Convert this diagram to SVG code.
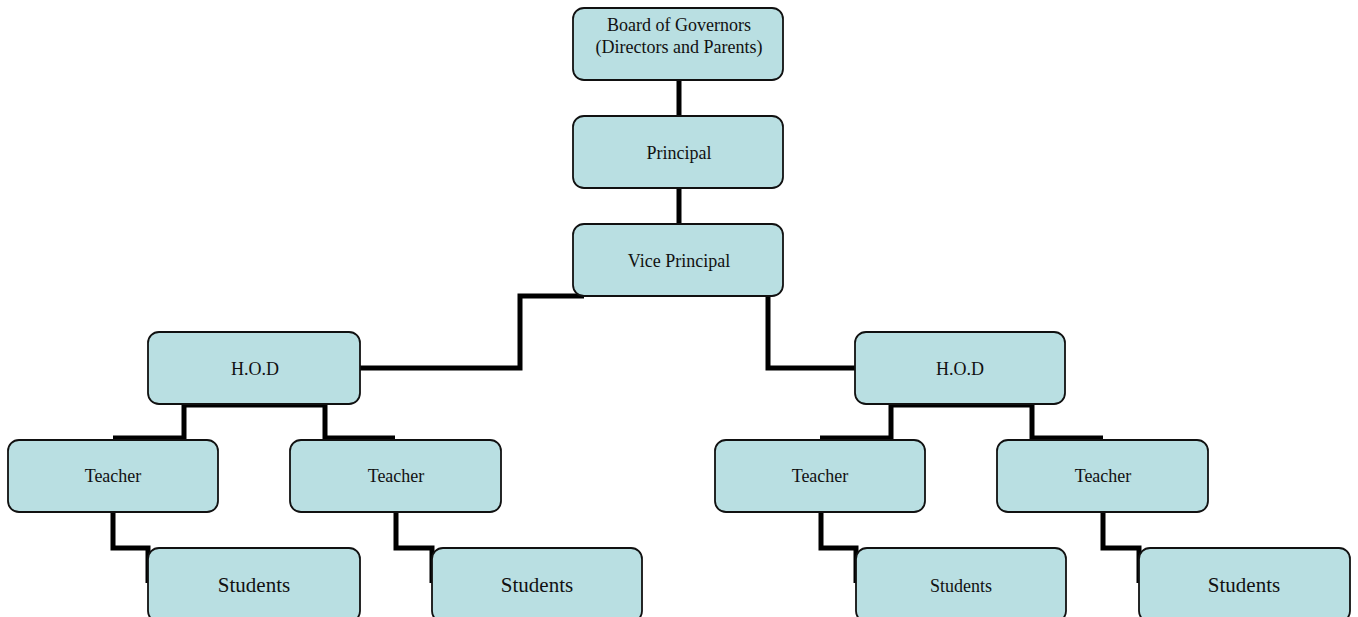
<svg xmlns="http://www.w3.org/2000/svg" width="1358" height="617" viewBox="0 0 1358 617">
  <style>
    .box { fill: #b9dfe2; stroke: #111; stroke-width: 1.8; }
    .lbl { font-family: "Liberation Serif", "Times New Roman", serif; font-size: 18px; fill: #111; text-anchor: middle; }
    .big { font-size: 21px; }
    .wire { fill: none; stroke: #000; stroke-width: 5; stroke-linejoin: miter; stroke-linecap: butt; }
  </style>
  <rect width="1358" height="617" fill="#fff"/>

  <g id="connectors">
    <path class="wire" d="M679,80 V116"/>
    <path class="wire" d="M679,188 V224"/>
    <path class="wire" d="M360,368 H520 V296 H584"/>
    <path class="wire" d="M768,290 V368 H855"/>
    <path class="wire" d="M113,438 H184 V405 H325 V438 H395"/>
    <path class="wire" d="M820,438 H891 V405 H1032 V438 H1103"/>
    <path class="wire" d="M113,512 V548 H148 V583"/>
    <path class="wire" d="M396,512 V548 H432 V583"/>
    <path class="wire" d="M821,512 V548 H856 V583"/>
    <path class="wire" d="M1103,512 V548 H1139 V583"/>
  </g>

  <g id="board">
    <rect class="box" x="573" y="8" width="210" height="72" rx="11"/>
    <text class="lbl" x="679" y="31">Board of Governors</text>
    <text class="lbl" x="679" y="53">(Directors and Parents)</text>
  </g>
  <g id="principal">
    <rect class="box" x="573" y="116" width="210" height="72" rx="11"/>
    <text class="lbl" x="679" y="159">Principal</text>
  </g>
  <g id="vice-principal">
    <rect class="box" x="573" y="224" width="210" height="72" rx="11"/>
    <text class="lbl" x="679" y="267">Vice Principal</text>
  </g>
  <g id="hod-left">
    <rect class="box" x="148" y="332" width="212" height="72" rx="11"/>
    <text class="lbl" x="255" y="375">H.O.D</text>
  </g>
  <g id="hod-right">
    <rect class="box" x="855" y="332" width="210" height="72" rx="11"/>
    <text class="lbl" x="960" y="375">H.O.D</text>
  </g>
  <g id="teacher-1">
    <rect class="box" x="8" y="440" width="210" height="72" rx="11"/>
    <text class="lbl" x="113" y="482">Teacher</text>
  </g>
  <g id="teacher-2">
    <rect class="box" x="290" y="440" width="211" height="72" rx="11"/>
    <text class="lbl" x="396" y="482">Teacher</text>
  </g>
  <g id="teacher-3">
    <rect class="box" x="715" y="440" width="210" height="72" rx="11"/>
    <text class="lbl" x="820" y="482">Teacher</text>
  </g>
  <g id="teacher-4">
    <rect class="box" x="997" y="440" width="211" height="72" rx="11"/>
    <text class="lbl" x="1103" y="482">Teacher</text>
  </g>
  <g id="students-1">
    <rect class="box" x="148" y="548" width="212" height="74" rx="11"/>
    <text class="lbl big" x="254" y="592">Students</text>
  </g>
  <g id="students-2">
    <rect class="box" x="432" y="548" width="210" height="74" rx="11"/>
    <text class="lbl big" x="537" y="592">Students</text>
  </g>
  <g id="students-3">
    <rect class="box" x="856" y="548" width="210" height="74" rx="11"/>
    <text class="lbl" x="961" y="592">Students</text>
  </g>
  <g id="students-4">
    <rect class="box" x="1139" y="548" width="211" height="74" rx="11"/>
    <text class="lbl big" x="1244" y="592">Students</text>
  </g>
</svg>
